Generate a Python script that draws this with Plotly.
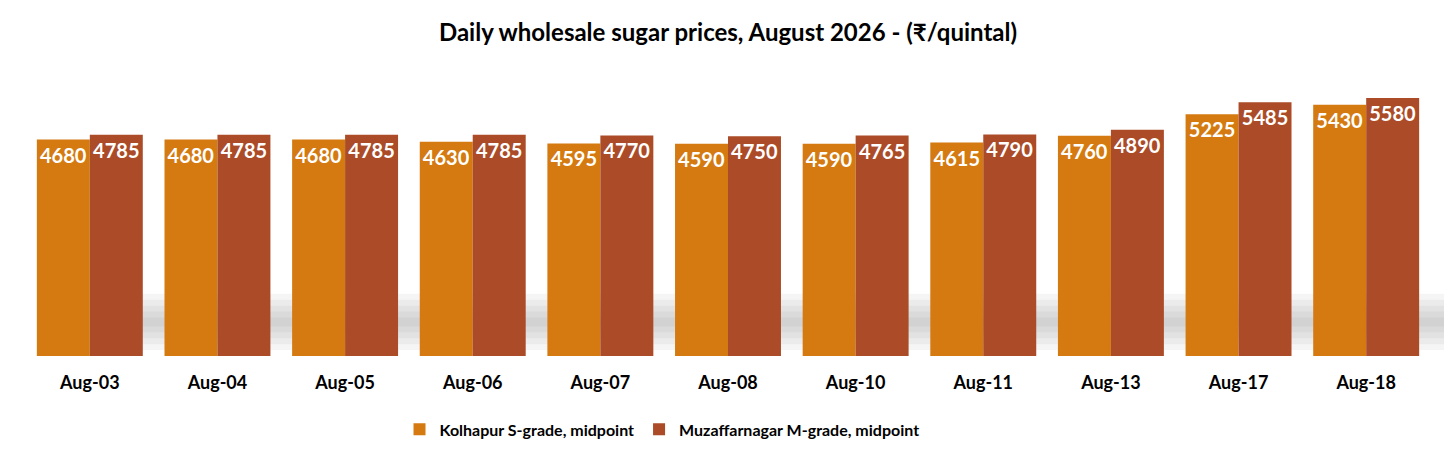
import plotly.graph_objects as go

# Dados
datas = ['Aug-03', 'Aug-04', 'Aug-05', 'Aug-06', 'Aug-07', 'Aug-08',
         'Aug-10', 'Aug-11', 'Aug-13', 'Aug-17', 'Aug-18']
kolhapur = [4680, 4680, 4680, 4630, 4595, 4590, 4590, 4615, 4760, 5225, 5430]
muzaffarnagar = [4785, 4785, 4785, 4785, 4770, 4750, 4765, 4790, 4890, 5485, 5580]

# Cores
COR_KOL = '#D47A10'
COR_MUZ = '#AB4B27'
FONTE = 'Lato'

fig = go.Figure()

fig.add_trace(go.Bar(
    x=datas,
    y=kolhapur,
    name='Kolhapur S-grade, midpoint',
    marker=dict(color=COR_KOL, line=dict(width=0)),
    text=kolhapur,
    textposition='inside',
    insidetextanchor='end',
    textangle=0,
    constraintext='none',
    textfont=dict(family=FONTE, size=20, color='white', weight='bold'),
))

fig.add_trace(go.Bar(
    x=datas,
    y=muzaffarnagar,
    name='Muzaffarnagar M-grade, midpoint',
    marker=dict(color=COR_MUZ, line=dict(width=0)),
    text=muzaffarnagar,
    textposition='inside',
    insidetextanchor='end',
    textangle=0,
    constraintext='none',
    textfont=dict(family=FONTE, size=20, color='white', weight='bold'),
))

# sombra cinza suave atras das barras (efeito decorativo)
sombra = []
faixas = [(0.02, 0.21), (0.04, 0.19), (0.06, 0.17), (0.08, 0.15), (0.10, 0.13)]
for y0, y1 in faixas:
    sombra.append(dict(
        type='rect', xref='paper', yref='paper', layer='below',
        x0=0.07, x1=1.01, y0=y0, y1=y1,
        fillcolor='rgb(120,120,120)', opacity=0.07, line=dict(width=0),
    ))

# a pagina tem margem de 8px no body; largura/altura compensam isso
fig.update_layout(
    width=1440,
    height=451,
    barmode='group',
    bargap=0.17,
    bargroupgap=0,
    title=dict(
        text='Daily wholesale sugar prices, August 2026 - (₹/quintal)',
        x=0.5, xanchor='center', y=0.945, yanchor='middle',
        font=dict(family=FONTE, size=24, color='black', weight='bold'),
    ),
    xaxis=dict(
        showgrid=False, showline=False, zeroline=False,
        tickfont=dict(family=FONTE, size=18, color='black', weight='bold'),
        ticklabelstandoff=14,
    ),
    yaxis=dict(visible=False, range=[0, 6400]),
    legend=dict(
        orientation='h', x=0.453, xanchor='center', y=-0.248, yanchor='middle',
        font=dict(family=FONTE, size=16, color='black', weight='bold'),
        itemwidth=30,
    ),
    shapes=sombra,
    margin=dict(l=18, r=18, t=52, b=101),
    plot_bgcolor='white',
    paper_bgcolor='white',
)

fig.write_html('out.html')
